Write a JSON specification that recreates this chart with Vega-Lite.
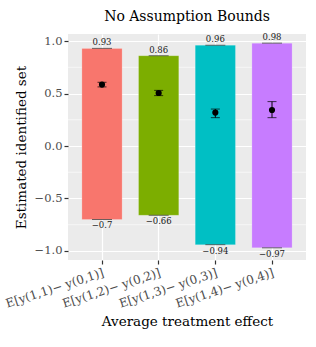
{
  "$schema": "https://vega.github.io/schema/vega-lite/v6.json",
  "width": 238,
  "height": 226,
  "padding": {"left": 3, "top": 10, "right": 9, "bottom": 5},
  "title": {"text": "No Assumption Bounds", "font": "DejaVu Serif", "fontSize": 14, "fontWeight": "normal", "color": "black", "anchor": "middle", "frame": "group", "offset": 9},
  "config": {
    "view": {"fill": "#EBEBEB", "stroke": null},
    "font": "DejaVu Serif",
    "axis": {
      "domain": false,
      "labelFont": "DejaVu Serif",
      "titleFont": "DejaVu Serif",
      "labelFontSize": 11.5,
      "labelColor": "#4D4D4D",
      "titleFontSize": 13.5,
      "titleFontWeight": "normal",
      "titleColor": "black",
      "tickColor": "#333333",
      "tickSize": 4,
      "tickWidth": 1.2,
      "gridColor": "white",
      "gridWidth": 1.2,
      "gridOpacity": 1
    }
  },
  "data": {
    "values": [
      {"ate": "E[y(1,1)− y(0,1)]", "lower": -0.70, "upper": 0.93, "est": 0.585, "lo": 0.563, "hi": 0.607},
      {"ate": "E[y(1,2)− y(0,2)]", "lower": -0.66, "upper": 0.86, "est": 0.505, "lo": 0.48, "hi": 0.53},
      {"ate": "E[y(1,3)− y(0,3)]", "lower": -0.94, "upper": 0.96, "est": 0.318, "lo": 0.27, "hi": 0.352},
      {"ate": "E[y(1,4)− y(0,4)]", "lower": -0.97, "upper": 0.98, "est": 0.343, "lo": 0.27, "hi": 0.423}
    ]
  },
  "layer": [
    {
      "data": {"values": [{"m": 0.75}, {"m": 0.25}, {"m": -0.25}, {"m": -0.75}]},
      "mark": {"type": "rule", "color": "white", "strokeWidth": 0.6},
      "encoding": {"y": {"field": "m", "type": "quantitative", "scale": {"domain": [-1.086, 1.067], "nice": false, "zero": false}}}
    },
    {
      "mark": {"type": "bar", "stroke": "white", "strokeOpacity": 0.4, "strokeWidth": 0.5},
      "encoding": {
        "x": {"field": "ate", "type": "nominal", "sort": null, "scale": {"paddingInner": 0.29, "paddingOuter": 0.245},
          "axis": {"title": "Average treatment effect", "labelAngle": -18, "labelAlign": "right", "labelBaseline": "top", "labelPadding": 3, "labelFontSize": 12, "grid": true, "bandPosition": 0.5, "titlePadding": 5}},
        "y": {"field": "lower", "type": "quantitative", "scale": {"domain": [-1.086, 1.067], "nice": false, "zero": false},
          "axis": {"title": "Estimated identified set", "values": [-1, -0.5, 0, 0.5, 1], "format": ".1f", "labelPadding": 2, "titlePadding": 6}},
        "y2": {"field": "upper"},
        "color": {"field": "ate", "type": "nominal", "sort": null, "scale": {"range": ["#F8766D", "#7CAE00", "#00BFC4", "#C77CFF"]}, "legend": null}
      }
    },
    {
      "mark": {"type": "tick", "color": "#333333", "size": 20, "thickness": 1},
      "encoding": {"x": {"field": "ate", "type": "nominal", "sort": null}, "y": {"field": "upper", "type": "quantitative"}}
    },
    {
      "mark": {"type": "tick", "color": "#333333", "size": 20, "thickness": 1},
      "encoding": {"x": {"field": "ate", "type": "nominal", "sort": null}, "y": {"field": "lower", "type": "quantitative"}}
    },
    {
      "mark": {"type": "text", "baseline": "bottom", "dy": -1, "fontSize": 8.5, "color": "#1a1a1a", "font": "DejaVu Serif"},
      "encoding": {"x": {"field": "ate", "type": "nominal", "sort": null}, "y": {"field": "upper", "type": "quantitative"}, "text": {"field": "upper", "type": "quantitative", "format": "~g"}}
    },
    {
      "mark": {"type": "text", "baseline": "top", "dy": 2, "fontSize": 8.5, "color": "#1a1a1a", "font": "DejaVu Serif"},
      "encoding": {"x": {"field": "ate", "type": "nominal", "sort": null}, "y": {"field": "lower", "type": "quantitative"}, "text": {"field": "lower", "type": "quantitative", "format": "~g"}}
    },
    {
      "mark": {"type": "rule", "color": "black", "strokeWidth": 1},
      "encoding": {"x": {"field": "ate", "type": "nominal", "sort": null}, "y": {"field": "lo", "type": "quantitative"}, "y2": {"field": "hi"}}
    },
    {
      "mark": {"type": "tick", "color": "black", "size": 9, "thickness": 1},
      "encoding": {"x": {"field": "ate", "type": "nominal", "sort": null}, "y": {"field": "lo", "type": "quantitative"}}
    },
    {
      "mark": {"type": "tick", "color": "black", "size": 9, "thickness": 1},
      "encoding": {"x": {"field": "ate", "type": "nominal", "sort": null}, "y": {"field": "hi", "type": "quantitative"}}
    },
    {
      "mark": {"type": "point", "filled": true, "color": "black", "size": 38, "opacity": 1},
      "encoding": {"x": {"field": "ate", "type": "nominal", "sort": null}, "y": {"field": "est", "type": "quantitative"}}
    }
  ]
}
